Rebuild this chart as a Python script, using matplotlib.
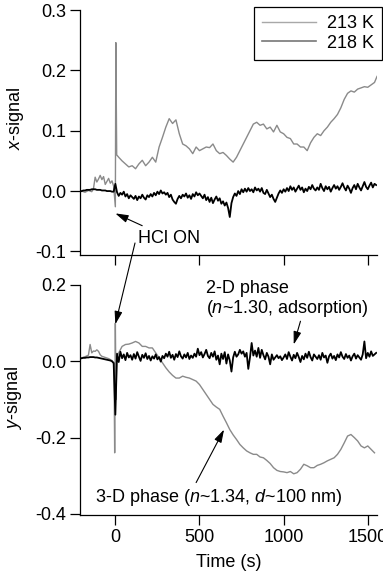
import matplotlib
matplotlib.use("Agg")
import matplotlib.pyplot as plt
from matplotlib.lines import Line2D
import numpy as np

plt.rcParams['font.family'] = ['Liberation Sans', 'DejaVu Sans']
plt.rcParams['mathtext.fontset'] = 'custom'
plt.rcParams['mathtext.rm'] = 'Liberation Sans'
plt.rcParams['mathtext.it'] = 'Liberation Sans:italic'
plt.rcParams['axes.unicode_minus'] = False
plt.rcParams['font.size'] = 13

# ---- data ----
# 213 K, x-signal (gray)
t_x213 = [-200, -180, -160, -140, -130, -120, -110, -100, -90, -80, -70, -60, -50, -40, -30, -20, -10,
          0, 3, 8, 20, 40, 60, 80, 100, 120, 140, 160, 180, 200, 220, 240, 260, 280, 300, 320, 340,
          360, 380, 400, 420, 440, 460, 480, 500, 520, 540, 560, 580, 600, 620, 640, 660, 680, 700,
          720, 740, 760, 780, 800, 820, 840, 860, 880, 900, 920, 940, 960, 980, 1000, 1020, 1040,
          1060, 1080, 1100, 1120, 1140, 1160, 1180, 1200, 1220, 1240, 1260, 1280, 1300, 1320, 1340,
          1360, 1380, 1400, 1420, 1440, 1460, 1480, 1500, 1520, 1540, 1555]
x213 = [0.000, -0.002, 0.001, -0.001, 0.004, 0.023, 0.015, 0.020, 0.026, 0.019, 0.024, 0.011, 0.016,
        0.021, 0.013, 0.017, 0.008, -0.026, 0.246, 0.060, 0.056, 0.050, 0.045, 0.040, 0.042, 0.037,
        0.045, 0.051, 0.042, 0.048, 0.056, 0.048, 0.073, 0.089, 0.106, 0.120, 0.112, 0.118, 0.095,
        0.078, 0.075, 0.070, 0.062, 0.073, 0.067, 0.070, 0.073, 0.072, 0.078, 0.067, 0.062, 0.064,
        0.059, 0.053, 0.048, 0.056, 0.067, 0.078, 0.089, 0.100, 0.111, 0.114, 0.109, 0.111, 0.103,
        0.106, 0.098, 0.109, 0.098, 0.095, 0.089, 0.087, 0.078, 0.078, 0.073, 0.073, 0.067, 0.080,
        0.089, 0.095, 0.092, 0.100, 0.106, 0.114, 0.120, 0.127, 0.138, 0.152, 0.162, 0.166, 0.164,
        0.169, 0.171, 0.173, 0.172, 0.176, 0.180, 0.190]

# 218 K, x-signal (black), sampled every 10 s from -200 s
t_218 = np.arange(-200, 1560, 10)
x218 = [0.000, 0.001, 0.001, 0.002, 0.002, 0.002, 0.003, 0.003, 0.003, 0.002,
        0.002, 0.002, 0.001, 0.001, 0.001, 0.000, 0.000, 0.000, -0.001, -0.001,
        0.012,
        -0.002, -0.008, -0.003, -0.006, -0.001, -0.009, -0.005, -0.012, -0.007, -0.010,
        -0.013, -0.008, -0.015, -0.009, -0.012, -0.006, -0.011, -0.014, -0.007, -0.010,
        -0.005, -0.009, -0.003, -0.007, -0.001, -0.005, 0.001, -0.004, -0.002, -0.006,
        -0.003, -0.010, -0.006, -0.014, -0.018, -0.021, -0.013, -0.008, -0.012, -0.006,
        -0.009, -0.004, -0.011, -0.007, -0.013, -0.005, -0.009, -0.002, -0.007, -0.004,
        -0.008, -0.012, -0.006, -0.015, -0.010, -0.018, -0.011, -0.020, -0.014, -0.009,
        -0.016, -0.012, -0.021, -0.017, -0.024, -0.019, -0.028, -0.043, -0.020, -0.010,
        -0.004, -0.008, 0.000, -0.005, 0.003, -0.002, 0.004, -0.001, 0.005, 0.000,
        0.003, -0.002, 0.006, 0.001, 0.004, -0.001, 0.005, -0.003, -0.005, 0.002,
        -0.004, -0.010, -0.006, -0.013, -0.018, -0.011, -0.004, 0.001, -0.003, 0.003,
        -0.001, 0.005, 0.000, 0.008, 0.002, 0.006, -0.001, 0.004, 0.009, 0.002,
        0.006, -0.002, 0.004, 0.000, 0.007, 0.003, 0.010, 0.004, 0.001, 0.006,
        0.002, 0.012, 0.005, 0.000, 0.008, 0.003, 0.007, -0.001, 0.005, 0.010,
        0.004, 0.008, 0.002, 0.007, 0.013, 0.006, 0.001, 0.009, 0.004, -0.003,
        0.005, 0.010, 0.003, 0.012, 0.006, 0.001, 0.008, 0.015, 0.007, 0.003,
        0.009, 0.014, 0.006, 0.012, 0.010]

# 213 K, y-signal (gray)
t_y213 = [-200, -180, -160, -150, -140, -130, -120, -110, -100, -90, -80, -60, -40, -20, -8, -4, 0, 4,
          8, 20, 40, 60, 80, 100, 120, 140, 160, 180, 200, 220, 240, 260, 280, 300, 320, 340, 360,
          380, 400, 420, 440, 460, 480, 500, 520, 540, 560, 580, 600, 620, 640, 660, 680, 700, 720,
          740, 760, 780, 800, 820, 840, 860, 880, 900, 920, 940, 960, 980, 1000, 1020, 1040, 1060,
          1080, 1100, 1120, 1140, 1160, 1180, 1200, 1220, 1240, 1260, 1280, 1300, 1320, 1340, 1360,
          1380, 1400, 1420, 1440, 1460, 1480, 1500, 1520, 1540]
y213 = [0.009, 0.012, 0.016, 0.044, 0.022, 0.027, 0.026, 0.030, 0.026, 0.017, 0.013, 0.010, 0.007,
        0.002, -0.005, -0.240, 0.100, -0.100, 0.010, 0.022, 0.039, 0.044, 0.045, 0.048, 0.052, 0.048,
        0.039, 0.039, 0.035, 0.035, 0.022, 0.009, -0.004, -0.017, -0.028, -0.037, -0.044, -0.044,
        -0.039, -0.042, -0.044, -0.048, -0.052, -0.061, -0.074, -0.087, -0.100, -0.113, -0.120,
        -0.126, -0.144, -0.161, -0.179, -0.193, -0.205, -0.218, -0.227, -0.235, -0.240, -0.244,
        -0.244, -0.251, -0.253, -0.260, -0.268, -0.279, -0.286, -0.289, -0.290, -0.292, -0.289,
        -0.295, -0.292, -0.283, -0.270, -0.274, -0.279, -0.279, -0.273, -0.270, -0.266, -0.261,
        -0.257, -0.253, -0.244, -0.231, -0.214, -0.196, -0.192, -0.200, -0.209, -0.222, -0.227,
        -0.222, -0.231, -0.240]

# 218 K, y-signal (black), same 10 s grid
y218 = [0.008, 0.009, 0.009, 0.010, 0.010, 0.011, 0.011, 0.011, 0.010, 0.010,
        0.009, 0.008, 0.007, 0.006, 0.005, 0.004, 0.003, 0.002, 0.000, -0.005,
        -0.140,
        0.020, -0.002, 0.025, 0.008, 0.018, 0.003, 0.022, 0.010, 0.016, 0.004,
        0.019, 0.007, 0.024, 0.012, 0.001, 0.017, 0.009, 0.021, 0.006, 0.014,
        0.002, 0.013, 0.007, 0.018, 0.005, 0.011, -0.001, 0.014, 0.008, 0.020,
        0.012, 0.025, 0.009, 0.017, 0.004, 0.019, 0.011, 0.026, 0.013, 0.007,
        0.018, 0.010, 0.022, 0.006, 0.015, 0.009, 0.020, 0.012, 0.033, 0.016,
        0.024, 0.010, 0.019, 0.030, 0.014, 0.008, 0.022, 0.012, 0.026, 0.004,
        0.015, -0.008, 0.020, 0.006, 0.024, -0.006, 0.018, 0.002, -0.027, 0.010,
        0.025, 0.012, 0.018, 0.030, 0.020, 0.026, 0.012, 0.022, -0.020, 0.010,
        0.048, 0.015, 0.028, 0.012, 0.035, 0.009, 0.030, 0.016, 0.005, 0.022,
        0.012, -0.008, 0.018, 0.004, 0.010, 0.016, 0.008, 0.013, 0.003, 0.010,
        0.018, 0.006, 0.024, 0.012, 0.002, 0.017, 0.008, 0.022, 0.011, -0.002,
        0.014, 0.005, 0.020, 0.009, 0.025, 0.011, 0.002, 0.018, 0.012, 0.006,
        0.016, 0.004, 0.022, 0.010, 0.015, -0.004, 0.013, 0.020, 0.007, 0.014,
        0.003, 0.018, 0.010, 0.024, 0.012, 0.006, 0.019, 0.009, 0.015, 0.002,
        0.013, 0.020, 0.007, 0.016, 0.010, 0.004, 0.018, 0.052, 0.008, 0.022,
        0.012, 0.026, 0.014, 0.018, 0.022]

labels = ["213 K", "218 K"]
xticks = [0, 500, 1000, 1500]

# ---- figure ----
fig = plt.figure(figsize=(3.83, 5.74), dpi=100)
ax1 = fig.add_axes([0.2089, 0.5557, 0.7755, 0.4268])
ax2 = fig.add_axes([0.2089, 0.1028, 0.7755, 0.4007])

gray = "#8a8a8a"
ax1.plot(t_x213, x213, color=gray, lw=1.0)
ax1.plot(t_218, x218, color="black", lw=1.3)
ax2.plot(t_y213, y213, color=gray, lw=1.0)
ax2.plot(t_218, y218, color="black", lw=1.3)

for ax in (ax1, ax2):
    ax.set_xlim(-210, 1555)
    ax.set_xticks(xticks)
    for s in ("top", "right"):
        ax.spines[s].set_visible(False)
    ax.spines["left"].set_linewidth(0.9)
    ax.spines["bottom"].set_linewidth(0.9)
    ax.tick_params(direction="out", length=7, width=0.9, pad=3, labelsize=13)
    ax.yaxis.set_major_formatter(matplotlib.ticker.FormatStrFormatter("%.1f"))

ax1.set_ylim(-0.106, 0.3)
ax1.set_yticks([-0.1, 0.0, 0.1, 0.2, 0.3])
ax1.tick_params(axis="x", labelbottom=False)
ax2.set_ylim(-0.403, 0.2)
ax2.set_yticks([-0.4, -0.2, 0.0, 0.2])

ax1.set_ylabel(r"$\mathit{x}$-signal", fontsize=13)
ax1.yaxis.set_label_coords(-0.182, 0.558)
ax2.set_ylabel(r"$\mathit{y}$-signal", fontsize=13)
ax2.yaxis.set_label_coords(-0.189, 0.507)
ax2.set_xlabel("Time (s)", fontsize=13, labelpad=6)

handles = [Line2D([], [], color="#a8a8a8", lw=1.0), Line2D([], [], color="#777777", lw=1.2)]
leg = ax1.legend(handles, labels, loc="upper right", bbox_to_anchor=(0.997, 0.988),
                 bbox_transform=fig.transFigure, borderaxespad=0, fancybox=False,
                 framealpha=1, edgecolor="black", handlelength=3.0, handletextpad=0.6,
                 labelspacing=0.15, borderpad=0.45, fontsize=13)
leg.get_frame().set_linewidth(0.9)

arrow = dict(arrowstyle="-|>,head_length=0.6,head_width=0.18", color="black", lw=0.8,
             shrinkA=0, shrinkB=0)
ax1.annotate("HCl ON", xy=(0, -0.037), xytext=(321, -0.078), ha="center", va="center",
             fontsize=13, arrowprops=dict(arrow, shrinkA=2))
ax2.annotate("", xy=(0, 0.097), xytext=(135 / 383, 1 - 243 / 574), textcoords="figure fraction",
             arrowprops=arrow, annotation_clip=False)

ax2.text(540, 0.191, "2-D phase", ha="left", va="center", fontsize=13)
ax2.text(540, 0.139, r"($\mathit{n}$~1.30, adsorption)", ha="left", va="center", fontsize=13)
ax2.annotate("", xy=(1060, 0.044), xytext=(1100, 0.105), arrowprops=arrow)
ax2.text(616, -0.356, r"3-D phase ($\mathit{n}$~1.34, $\mathit{d}$~100 nm)", ha="center",
         va="center", fontsize=13)
ax2.annotate("", xy=(646, -0.179), xytext=(480, -0.318), arrowprops=arrow)

fig.savefig("out.png", dpi=100)
plt.close()
